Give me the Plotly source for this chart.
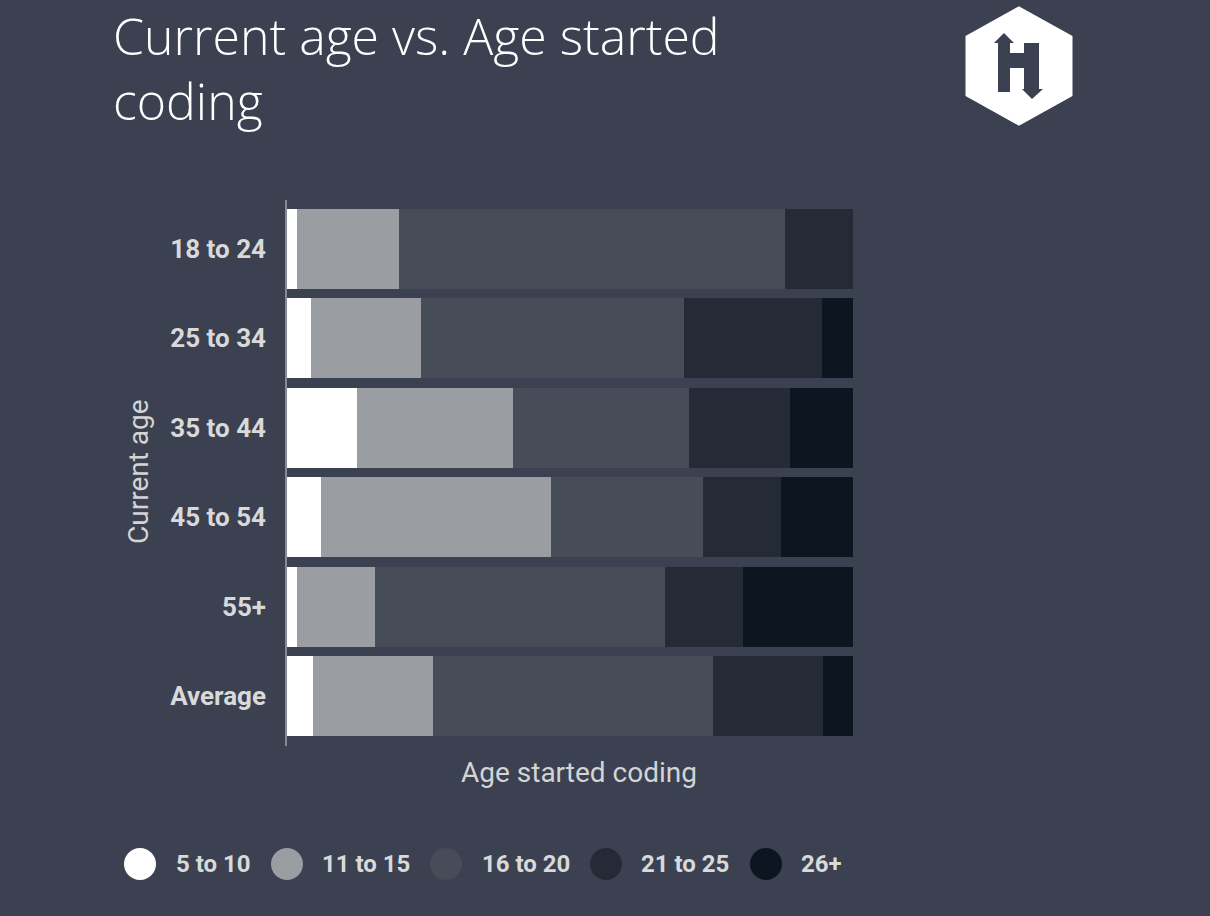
import plotly.graph_objects as go

# ---------------- data ----------------
current_age = ["18 to 24", "25 to 34", "35 to 44", "45 to 54", "55+", "Average"]
series_names = ["5 to 10", "11 to 15", "16 to 20", "21 to 25", "26+"]
s_5_10 = [1.8, 4.2, 12.4, 6.0, 1.8, 4.6]
s_11_15 = [18.0, 19.4, 27.6, 40.6, 13.8, 21.2]
s_16_20 = [68.2, 46.6, 31.1, 26.9, 51.2, 49.5]
s_21_25 = [12.0, 24.4, 17.7, 13.8, 13.8, 19.4]
s_26p = [0.0, 5.4, 11.2, 12.7, 19.4, 5.3]
series_values = [s_5_10, s_11_15, s_16_20, s_21_25, s_26p]
title_text = "Current age vs. Age started<br>coding"

# ---------------- style ----------------
colors = ["#ffffff", "#9a9da2", "#464d58", "#252b36", "#0d1520"]
BG = "#3b4150"
W, H = 1210, 916
ML, MR, MT, MB = 287, 357, 204, 175
PW, PH = W - ML - MR, H - MT - MB


def px(x):
    return (x - ML) / PW


def py(y):
    return (H - MB - y) / PH


fig = go.Figure()
for name, vals, col in zip(series_names, series_values, colors):
    fig.add_trace(go.Bar(
        y=current_age, x=vals, name=name, orientation="h",
        marker=dict(color=col, line=dict(width=0)),
        hoverinfo="x+name",
    ))

shapes = []
# y axis line
shapes.append(dict(type="line", xref="paper", yref="paper",
                   x0=px(286), x1=px(286), y0=py(200), y1=py(746),
                   line=dict(color="#868b94", width=2)))

# custom legend
legend_cx = [140, 287, 446, 606, 766]
legend_tx = [174, 320, 480, 639, 799]
LY = 864
R = 16
annotations = []
for name, col, cx, tx in zip(series_names, colors, legend_cx, legend_tx):
    shapes.append(dict(type="circle", xref="paper", yref="paper",
                       x0=px(cx - R), x1=px(cx + R), y0=py(LY + R), y1=py(LY - R),
                       fillcolor=col, line=dict(width=0)))
    annotations.append(dict(xref="paper", yref="paper", x=px(tx), y=py(LY),
                            xanchor="left", yanchor="middle", showarrow=False,
                            text=name,
                            font=dict(family="Roboto", size=24, color="#d9d9d9", weight="bold")))

# logo: hexagon with H
hexpts = [(1019, 8), (1071, 37), (1071, 95), (1019, 124), (967, 95), (967, 37)]
path = "M " + " L ".join(f"{px(x):.5f},{py(y):.5f}" for x, y in hexpts) + " Z"
shapes.append(dict(type="path", xref="paper", yref="paper", path=path,
                   fillcolor="#ffffff", line=dict(color="#ffffff", width=3)))
hpts = [(998, 92), (998, 43), (994, 43), (1004, 33), (1014, 43), (1010, 43),
        (1010, 53), (1024, 53), (1024, 43), (1039, 43), (1039, 89), (1043, 89),
        (1032, 99), (1022, 89), (1024, 89), (1024, 68), (1010, 68), (1010, 92)]
hpath = "M " + " L ".join(f"{px(x):.5f},{py(y):.5f}" for x, y in hpts) + " Z"
shapes.append(dict(type="path", xref="paper", yref="paper", path=hpath,
                   fillcolor=BG, line=dict(width=0)))

# title
annotations.append(dict(xref="paper", yref="paper", x=px(111), y=py(0),
                        xanchor="left", yanchor="top", align="left", showarrow=False,
                        text=title_text,
                        font=dict(family="Open Sans", size=50, color="#ffffff", weight=300)))

# axis titles
annotations.append(dict(xref="paper", yref="paper", x=px(579), y=py(772),
                        xanchor="center", yanchor="middle", showarrow=False,
                        text="Age started coding",
                        font=dict(family="Roboto", size=28, color="#d4d4d4")))
annotations.append(dict(xref="paper", yref="paper", x=px(138), y=py(472),
                        xanchor="center", yanchor="middle", showarrow=False,
                        textangle=-90, text="Current age",
                        font=dict(family="Roboto", size=28, color="#d4d4d4")))

fig.update_layout(
    width=W, height=H,
    margin=dict(l=ML, r=MR, t=MT, b=MB),
    paper_bgcolor=BG, plot_bgcolor=BG,
    barmode="stack", bargap=0.105,
    showlegend=False,
    xaxis=dict(range=[0, 100], showgrid=False, zeroline=False, showline=False,
               showticklabels=False, ticks=""),
    yaxis=dict(autorange="reversed", showgrid=False, zeroline=False, showline=False,
               ticks="", ticklabelstandoff=20,
               tickfont=dict(family="Roboto", size=26, color="#d9d9d9", weight="bold")),
    shapes=shapes,
    annotations=annotations,
)

fig.write_html("out.html", config={"displayModeBar": False},
               post_script="document.body.style.margin='0';document.body.style.padding='0';document.body.style.overflow='hidden';")
